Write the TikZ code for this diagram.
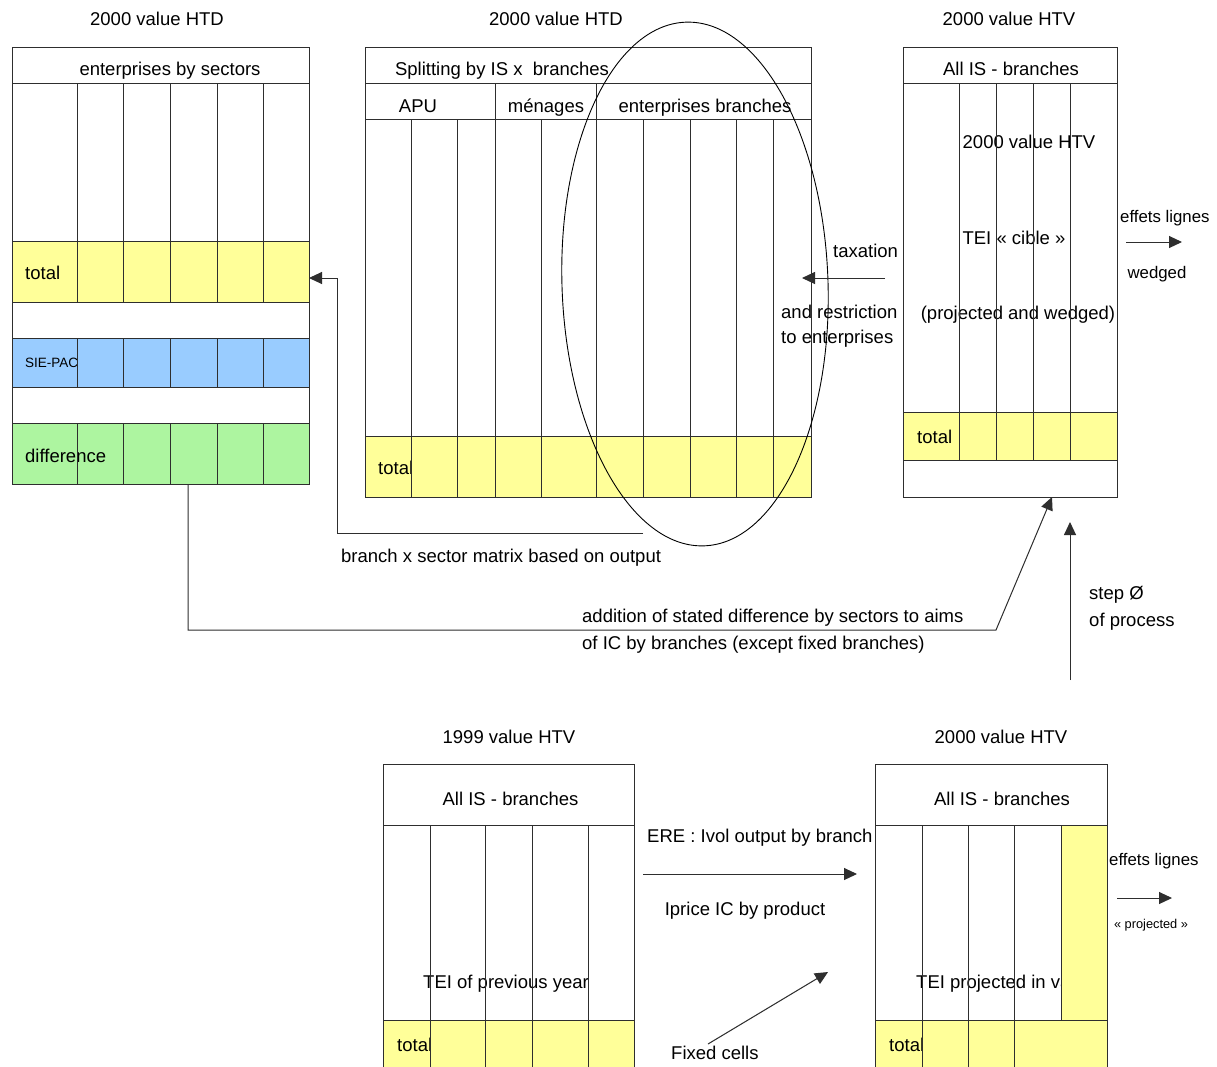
\documentclass[tikz,border=0pt]{standalone}
\usepackage{fontspec}
\setmainfont{Liberation Sans}
\usetikzlibrary{arrows.meta}
\definecolor{cyel}{HTML}{FFFF99}
\definecolor{cblue}{HTML}{99CCFF}
\definecolor{cgreen}{HTML}{ADF5A0}
\definecolor{cline}{HTML}{2E2E2E}
\tikzset{
  lbl/.style={inner sep=0pt, text height=13pt, text depth=0pt, font=\fontsize{18.5}{22}\selectfont},
  sidelbl/.style={inner sep=0pt, text height=12pt, text depth=0pt, font=\fontsize{16.8}{20}\selectfont},
  smalllbl/.style={inner sep=0pt, text height=9.2pt, text depth=0pt, font=\fontsize{12.8}{15}\selectfont},
  gridline/.style={draw=cline, line width=1pt},
  arr/.style={draw=cline, line width=1pt, -{Triangle[length=13pt,width=12pt]}},
}
\begin{document}
\begin{tikzpicture}[x=1pt,y=-1pt]
\path[use as bounding box] (0,0) rectangle (1217,1066);
\fill[white] (0,0) rectangle (1217,1066);
\clip (0,0) rectangle (1217,1066);

% ---------------- top-left block ----------------
\fill[cyel] (12,241) rectangle (309,302);
\fill[cblue] (12,338) rectangle (309,387);
\fill[cgreen] (12,423) rectangle (309,484);
\node[lbl] (tlTitle) at (157,19) {2000 value HTD};
\node[lbl] (tlHead) at (170,69) {enterprises by sectors};
\node[lbl, anchor=west] (tlTotal) at (25,273) {total};
\node[smalllbl, font=\fontsize{13.5}{16}\selectfont, anchor=west] (tlSie) at (25,363) {SIE-PAC};
\node[lbl, anchor=west] (tlDiff) at (25,456) {difference};
\draw[gridline] (12,47) rectangle (309,484);
\foreach \yy in {83,241,302,338,387,423} \draw[gridline] (12,\yy) -- (309,\yy);
\foreach \xx in {77,123,170,217,263}
  \draw[gridline] (\xx,83) -- (\xx,302) (\xx,338) -- (\xx,387) (\xx,423) -- (\xx,484);

% ---------------- top-middle block ----------------
\fill[cyel] (365,436) rectangle (811,497);
\node[lbl] (tmTitle) at (556,19) {2000 value HTD};
\node[lbl] (tmHead) at (502,69) {Splitting by IS x\ \ branches};
\node[lbl] (tmApu) at (418,106) {APU};
\node[lbl] (tmMen) at (546,106) {ménages};
\node[lbl] (tmEnt) at (705,106) {enterprises branches};
\node[lbl, anchor=west] (tmTotal) at (378,468) {total};
\draw[gridline] (365,47) rectangle (811,497);
\foreach \yy in {83,119,436} \draw[gridline] (365,\yy) -- (811,\yy);
\foreach \xx in {495,596.7} \draw[gridline] (\xx,83) -- (\xx,119);
\foreach \xx in {411.7,457.7,495,541,596.7,643.3,690,736.7,773.3}
  \draw[gridline] (\xx,119) -- (\xx,497);

% ellipse
\draw[black, line width=0.9pt, rotate around={2:(695,284)}] (695,284) ellipse [x radius=133pt, y radius=262pt];

% ---------------- top-right block ----------------
\fill[cyel] (903,412) rectangle (1117,460);
\node[lbl] (trTitle) at (1009,19) {2000 value HTV};
\node[lbl] (trHead) at (1011,69) {All IS - branches};
\node[lbl] (trIn1) at (1029,142) {2000 value HTV};
\node[lbl] (trIn2) at (1014,238) {TEI « cible »};
\node[lbl] (trIn3) at (1018,313) {(projected and wedged)};
\node[lbl, anchor=west] (trTotal) at (917,437) {total};
\draw[gridline] (903,47) rectangle (1117,497);
\foreach \yy in {83,412,460} \draw[gridline] (903,\yy) -- (1117,\yy);
\foreach \xx in {959,996.3,1033.3,1070} \draw[gridline] (\xx,83) -- (\xx,460);

\node[sidelbl, anchor=west] (effTop) at (1120,216) {effets lignes};
\node[sidelbl] (wedged) at (1157,272) {wedged};
\node[lbl, anchor=west] (taxation) at (833,251) {taxation};
\node[lbl, anchor=west] (restr1) at (781,312) {and restriction};
\node[lbl, anchor=west] (restr2) at (781,337) {to enterprises};
\node[lbl, anchor=west] (bxs) at (341,556) {branch x sector matrix based on output};
\node[lbl, anchor=west] (add1) at (582,616) {addition of stated difference by sectors to aims};
\node[lbl, anchor=west] (add2) at (582,643) {of IC by branches (except fixed branches)};
\node[lbl, anchor=west] (step1) at (1089,593) {step Ø};
\node[lbl, anchor=west] (step2) at (1089,620) {of process};

% ---------------- bottom-left block ----------------
\fill[cyel] (383,1020) rectangle (634,1080);
\node[lbl] (blTitle) at (509,737) {1999 value HTV};
\node[lbl] (blHead) at (510.5,799) {All IS - branches};
\node[lbl] (blIn) at (506,982) {TEI of previous year};
\node[lbl, anchor=west] (blTotal) at (397,1045) {total};
\draw[gridline] (383,764) rectangle (634,1080);
\foreach \yy in {825,1020} \draw[gridline] (383,\yy) -- (634,\yy);
\foreach \xx in {430,485.7,532.3,588.3} \draw[gridline] (\xx,825) -- (\xx,1080);

\node[lbl, anchor=west] (ere) at (647,836) {ERE : Ivol output by branch};
\node[lbl] (iprice) at (745,909) {Iprice IC by product};
\node[lbl, anchor=west] (fixed) at (671,1053) {Fixed cells};

% ---------------- bottom-right block ----------------
\fill[cyel] (875,1020) rectangle (1107,1080);
\begin{scope}
\clip (870,940) rectangle (1061,1010);
\node[lbl, anchor=west] (brIn) at (916,982) {TEI projected in value};
\end{scope}
\fill[cyel] (1061,825) rectangle (1107,1020);
\node[lbl] (brTitle) at (1001,737) {2000 value HTV};
\node[lbl] (brHead) at (1002,799) {All IS - branches};
\node[lbl, anchor=west] (brTotal) at (889,1045) {total};
\draw[gridline] (875,764) rectangle (1107,1080);
\foreach \yy in {825,1020} \draw[gridline] (875,\yy) -- (1107,\yy);
\foreach \xx in {922,968.3,1014.7} \draw[gridline] (\xx,825) -- (\xx,1080);
\draw[gridline] (1061,825) -- (1061,1020);

\node[sidelbl, anchor=west] (effBot) at (1109,859) {effets lignes};
\node[smalllbl] (projBot) at (1151,924) {« projected »};

% ---------------- connectors ----------------
\coordinate (diffS) at (188,484);
\coordinate (bendA) at (188,630);
\coordinate (bendB) at (996,630);
\coordinate (trS) at (1052,497);
\draw[arr] (diffS) -- (bendA) -- (bendB) -- (trS);

\coordinate (ellS) at (643,533);
\coordinate (bendC) at (337,533);
\coordinate (bendD) at (337,278);
\coordinate (tlE) at (309,278);
\draw[arr] (ellS) -- (bendC) -- (bendD) -- (tlE);

\coordinate (taxA) at (885,278);
\coordinate (taxB) at (802,278);
\draw[arr] (taxA) -- (taxB);

\coordinate (stepA) at (1070,680);
\coordinate (stepB) at (1070,522);
\draw[arr] (stepA) -- (stepB);

\coordinate (effA) at (1126,242);
\coordinate (effB) at (1182,242);
\draw[arr] (effA) -- (effB);

\coordinate (ereA) at (643,874);
\coordinate (ereB) at (857,874);
\draw[arr] (ereA) -- (ereB);

\coordinate (fixA) at (708,1044);
\coordinate (fixB) at (828,972);
\draw[arr] (fixA) -- (fixB);

\coordinate (effC) at (1117,898);
\coordinate (effD) at (1172,898);
\draw[arr] (effC) -- (effD);
\end{tikzpicture}
\end{document}
